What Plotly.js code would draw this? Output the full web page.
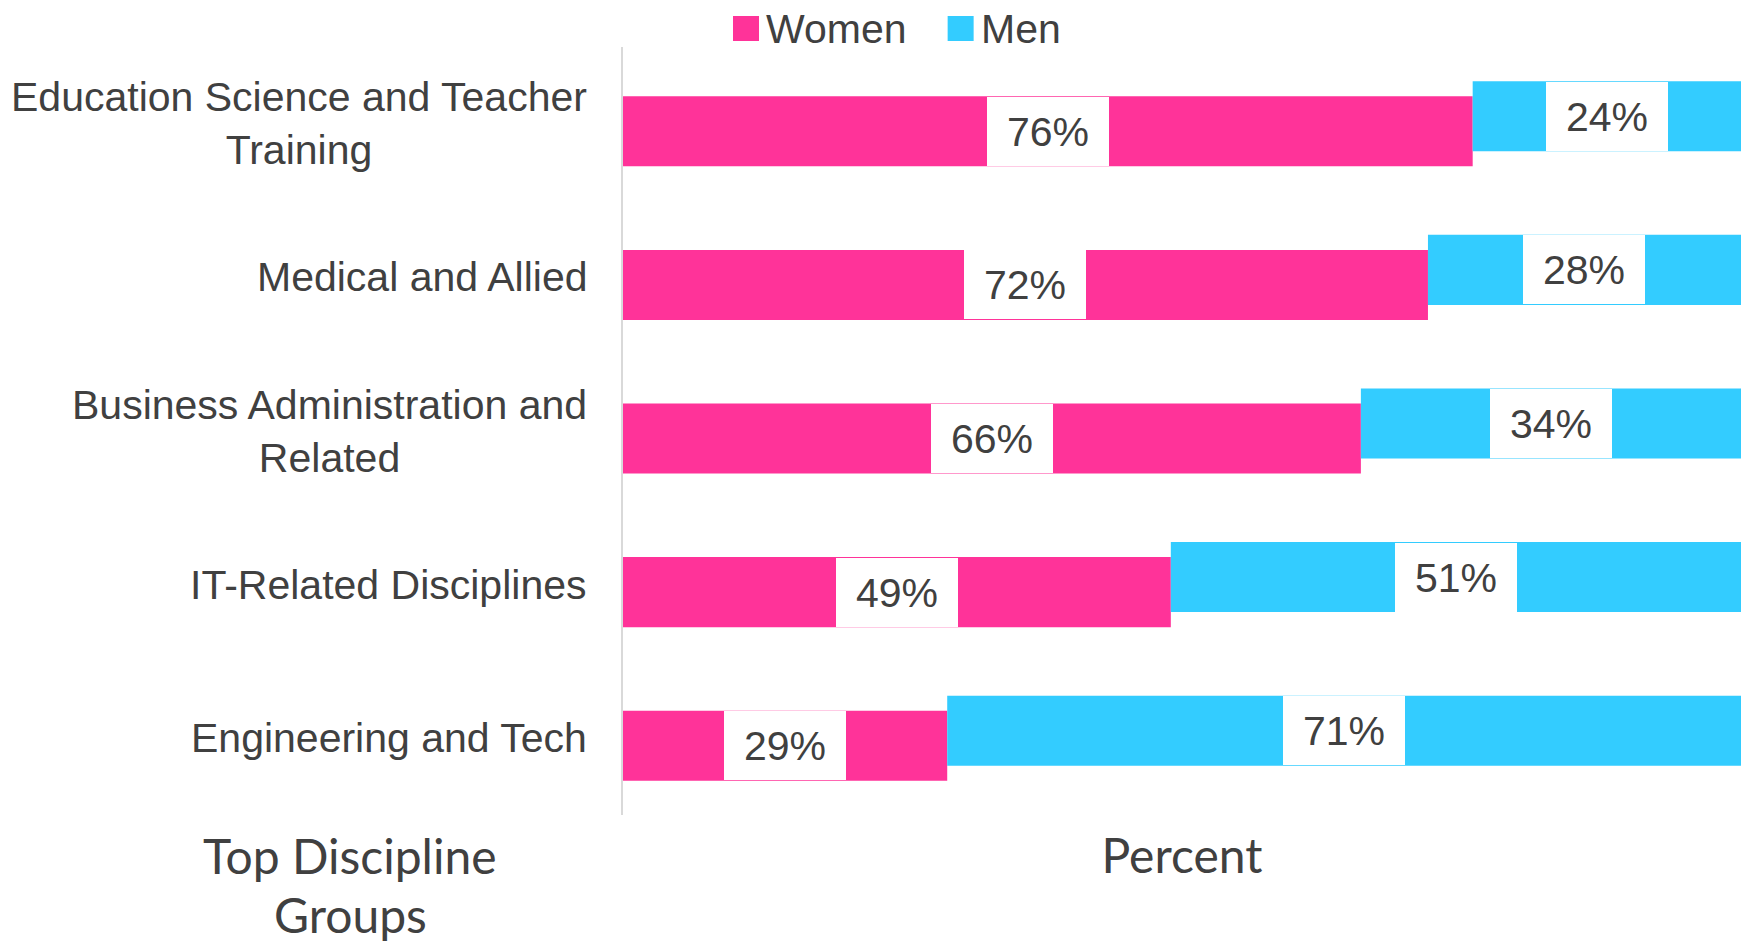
<!DOCTYPE html>
<html>
<head>
<meta charset="utf-8">
<script src="https://cdn.plot.ly/plotly-3.0.1.min.js"></script>
<style>
  html, body { margin: 0; padding: 0; background: #fff; }
  #plot { width: 1750px; height: 946px; }
</style>
</head>
<body>
<div id="plot"></div>
<script>
// chart values
const disciplines = [
    'Education Science and Teacher<br>Training',
    'Medical and Allied',
    'Business Administration and<br>Related',
    'IT-Related Disciplines',
    'Engineering and Tech'
];
const women = [76, 72, 66, 49, 29];
const men = [24, 28, 34, 51, 71];
const seriesNames = ['Women', 'Men'];
const seriesColors = ['#FF3399', '#33CCFF'];

const textColor = '#404040';
const labelFont = { family: 'Liberation Sans, Arial, sans-serif', size: 41, color: textColor };
const titleFont = { family: 'Lato, sans-serif', size: 48, color: textColor };
const barWidth = 0.456;
const shift = 0.049;

const womenTrace = {
    type: 'bar',
    orientation: 'h',
    name: seriesNames[0],
    y: disciplines,
    x: women,
    width: barWidth,
    offset: shift - barWidth / 2,
    marker: { color: seriesColors[0] },
    hoverinfo: 'x+y'
};

const menTrace = {
    type: 'bar',
    orientation: 'h',
    name: seriesNames[1],
    y: disciplines,
    x: men,
    base: women,
    width: barWidth,
    offset: -shift - barWidth / 2,
    marker: { color: seriesColors[1] },
    hoverinfo: 'x+y'
};

// value labels in white boxes, centred on each segment
const annotations = [];
disciplines.forEach((d, i) => {
    annotations.push({
        x: women[i] / 2, y: d, xref: 'x', yref: 'y',
        text: women[i] + '%', showarrow: false,
        font: labelFont, bgcolor: '#ffffff',
        width: 122, height: 69, borderpad: 0, borderwidth: 0,
        yshift: -7.5
    });
    annotations.push({
        x: women[i] + men[i] / 2, y: d, xref: 'x', yref: 'y',
        text: men[i] + '%', showarrow: false,
        font: labelFont, bgcolor: '#ffffff',
        width: 122, height: 69, borderpad: 0, borderwidth: 0,
        yshift: 7.5
    });
    // category labels, centred lines like the original
    annotations.push({
        x: 0, y: d, xref: 'paper', yref: 'y',
        xanchor: 'right', xshift: -34, align: 'center',
        text: d, showarrow: false, font: labelFont
    });
});

// y axis title drawn under the category labels, one line each
annotations.push({
    x: -0.244, y: 0, xref: 'paper', yref: 'paper',
    xanchor: 'center', yanchor: 'middle', yshift: -40,
    text: 'Top Discipline', showarrow: false,
    borderpad: 0, font: titleFont
});
annotations.push({
    x: -0.244, y: 0, xref: 'paper', yref: 'paper',
    xanchor: 'center', yanchor: 'middle', yshift: -99,
    text: 'Groups', showarrow: false,
    borderpad: 0, font: titleFont
});

// legend at the top (paper coords are relative to the plot area)
const legendX = [0.110, 0.302];
const shapes = [];
seriesNames.forEach((name, k) => {
    shapes.push({
        type: 'rect', xref: 'paper', yref: 'paper',
        xsizemode: 'pixel', ysizemode: 'pixel',
        xanchor: legendX[k], yanchor: 1,
        x0: -13, x1: 13, y0: 31, y1: 6,
        fillcolor: seriesColors[k], line: { width: 0 }
    });
    annotations.push({
        x: legendX[k], y: 1, xref: 'paper', yref: 'paper',
        xanchor: 'left', yanchor: 'middle', xshift: 18, yshift: 18,
        text: name, showarrow: false, font: labelFont
    });
});

const layout = {
    width: 1750,
    height: 946,
    margin: { l: 623, r: 9, t: 47, b: 131 },
    paper_bgcolor: '#ffffff',
    plot_bgcolor: '#ffffff',
    barmode: 'overlay',
    showlegend: false,
    xaxis: {
        range: [0, 100],
        showgrid: false, zeroline: false, showline: false,
        showticklabels: false, ticks: '',
        title: {
            text: 'Percent',
            standoff: 24,
            font: titleFont
        }
    },
    yaxis: {
        type: 'category',
        range: [4.5, -0.5],
        showgrid: false, zeroline: false,
        showline: true, linecolor: '#D9D9D9', linewidth: 2,
        showticklabels: false, ticks: ''
    },
    annotations: annotations,
    shapes: shapes
};

Plotly.newPlot('plot', [womenTrace, menTrace], layout, { displayModeBar: false });
</script>
</body>
</html>
